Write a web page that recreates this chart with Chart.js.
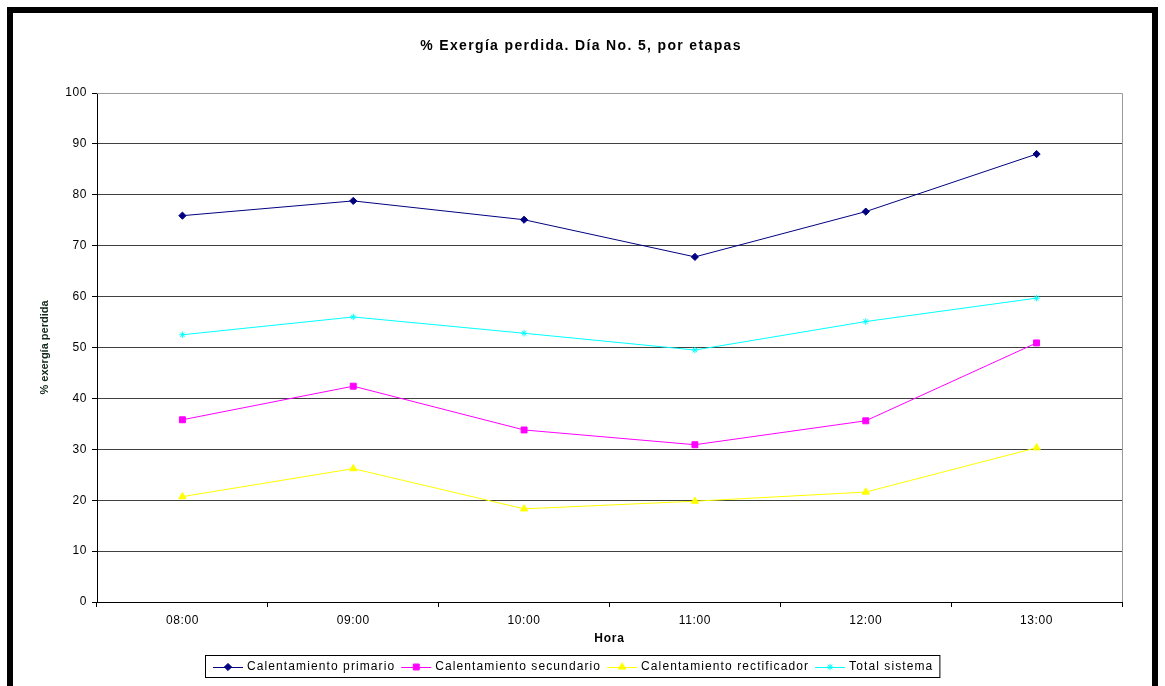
<!DOCTYPE html>
<html>
<head>
<meta charset="utf-8">
<script src="https://cdn.jsdelivr.net/npm/chart.js@4.4.1/dist/chart.umd.min.js"></script>
<style>
    html, body { margin: 0; padding: 0; background: #fff; overflow: hidden; }
    #marco { position: absolute; left: 7px; top: 7px; width: 1139px; height: 720px; border: 6px solid #000; }
    #grafico { position: absolute; left: 0; top: 0; }
</style>
</head>
<body>
<div id="marco"></div>
<canvas id="grafico" width="1165" height="686"></canvas>
<script>
// Datos
const horas = ['08:00', '09:00', '10:00', '11:00', '12:00', '13:00'];
const primario = [75.9, 78.8, 75.1, 67.8, 76.7, 88.0];
const secundario = [35.8, 42.4, 33.8, 30.9, 35.6, 50.9];
const rectificador = [20.7, 26.2, 18.3, 19.8, 21.6, 30.3];
const totalSistema = [52.5, 56.0, 52.8, 49.5, 55.1, 59.7];
const nombres = ['Calentamiento primario', 'Calentamiento secundario', 'Calentamiento rectificador', 'Total sistema'];
const ticksY = [0, 10, 20, 30, 40, 50, 60, 70, 80, 90, 100];

const fuente = "'Liberation Sans', Arial, sans-serif";

function serie(nombre, datos, color, estilo, radio) {
    return {
        label: nombre,
        data: datos,
        borderColor: color,
        backgroundColor: color,
        borderWidth: 1,
        pointStyle: estilo,
        pointRadius: radio,
        pointBorderWidth: 1,
        pointHoverRadius: radio,
        tension: 0
    };
}

// Título, rótulos de ejes, borde del área y leyenda con recuadro
const decoracion = {
    id: 'decoracion',
    beforeDraw(chart) {
        chart.ctx.letterSpacing = '0.6px';
    },
    afterDraw(chart) {
        const ctx = chart.ctx;
        const area = chart.chartArea;
        ctx.save();

        // borde gris superior y derecho
        ctx.strokeStyle = '#999';
        ctx.lineWidth = 1;
        ctx.beginPath();
        ctx.moveTo(area.left, Math.round(area.top) + 0.5);
        ctx.lineTo(Math.round(area.right) + 0.5, Math.round(area.top) + 0.5);
        ctx.lineTo(Math.round(area.right) + 0.5, area.bottom);
        ctx.stroke();

        ctx.fillStyle = '#000';
        ctx.textAlign = 'center';
        ctx.textBaseline = 'middle';
        ctx.letterSpacing = '1.35px';
        ctx.font = 'bold 14px ' + fuente;
        ctx.fillText('% Exergía perdida. Día No. 5, por etapas', 581, 46);

        ctx.letterSpacing = '0.8px';
        ctx.font = 'bold 12px ' + fuente;
        ctx.fillText('Hora', (area.left + area.right) / 2, 639);

        ctx.save();
        ctx.translate(45, (area.top + area.bottom) / 2);
        ctx.rotate(-Math.PI / 2);
        ctx.letterSpacing = '0px';
        ctx.font = 'bold 11px ' + fuente;
        ctx.fillStyle = '#102818';
        ctx.fillText('% exergía perdida', 0, 0);
        ctx.restore();

        // leyenda
        ctx.letterSpacing = '1.1px';
        ctx.font = '12px ' + fuente;
        ctx.textAlign = 'left';
        const yLey = 667;
        let x = 213;
        chart.data.datasets.forEach(ds => {
            ctx.strokeStyle = ds.borderColor;
            ctx.fillStyle = ds.backgroundColor;
            ctx.lineWidth = 1;
            ctx.beginPath();
            ctx.moveTo(x, yLey + 0.5);
            ctx.lineTo(x + 30, yLey + 0.5);
            ctx.stroke();
            Chart.helpers.drawPoint(ctx, {
                pointStyle: ds.pointStyle, radius: ds.pointRadius, rotation: 0, borderWidth: 1
            }, x + 15, yLey);
            ctx.fillStyle = '#000';
            ctx.fillText(ds.label, x + 34, yLey);
            x += 34 + ctx.measureText(ds.label).width + 6;
        });
        ctx.strokeStyle = '#000';
        ctx.strokeRect(205.5, 655.5, x - 205, 22);

        ctx.restore();
    }
};

new Chart(document.getElementById('grafico'), {
    type: 'line',
    data: {
        labels: horas,
        datasets: [
            serie(nombres[0], primario, '#000080', 'rectRot', 3.6),
            serie(nombres[1], secundario, '#FF00FF', 'rect', 4.2),
            serie(nombres[2], rectificador, '#FFFF00', 'triangle', 4.2),
            serie(nombres[3], totalSistema, '#00FFFF', 'star', 3.2)
        ]
    },
    options: {
        responsive: false,
        animation: false,
        layout: { padding: { top: 93, right: 43, bottom: 0, left: 0 } },
        plugins: {
            legend: { display: false },
            title: { display: false },
            tooltip: { enabled: false }
        },
        scales: {
            x: {
                offset: true,
                grid: { offset: true, drawOnChartArea: false, tickLength: 5, tickColor: '#000' },
                border: { color: '#000', width: 1 },
                ticks: { color: '#000', font: { family: fuente, size: 12 }, padding: 6, maxRotation: 0 },
                afterFit: s => { s.height = 84; }
            },
            y: {
                min: 0,
                max: 100,
                afterBuildTicks: s => { s.ticks = ticksY.map(v => ({ value: v })); },
                grid: {
                    color: c => c.tick && c.tick.value === 100 ? '#999' : '#404040',
                    tickColor: '#000',
                    tickLength: 5
                },
                border: { color: '#000', width: 1 },
                ticks: { color: '#000', font: { family: fuente, size: 12 }, padding: 5 },
                afterFit: s => { s.width = 97; }
            }
        }
    },
    plugins: [decoracion]
});
</script>
</body>
</html>
